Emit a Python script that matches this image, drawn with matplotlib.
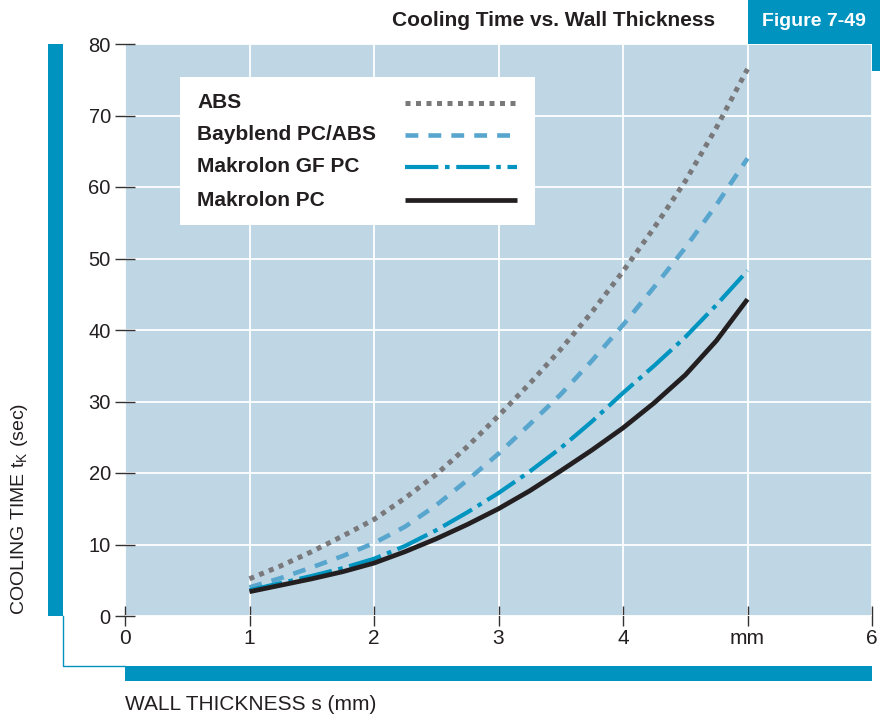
import matplotlib
matplotlib.use("Agg")
import matplotlib.pyplot as plt
from matplotlib import font_manager
from matplotlib.patches import Rectangle
from matplotlib.lines import Line2D

# ---------------- data ----------------
thickness = [1.0, 1.25, 1.5, 1.75, 2.0, 2.25, 2.5, 2.75, 3.0, 3.25, 3.5, 3.75, 4.0, 4.25, 4.5, 4.75, 5.0]
abs_time = [5.2, 7.0, 9.0, 11.2, 13.5, 16.5, 19.8, 23.7, 28.0, 32.5, 37.3, 42.5, 48.2, 54.3, 60.8, 68.3, 76.5]
bayblend_time = [4.0, 5.3, 6.8, 8.4, 10.2, 12.5, 15.5, 19.0, 22.7, 26.8, 31.0, 35.7, 40.7, 46.0, 51.5, 57.5, 64.0]
makrolon_gf_time = [3.6, 4.6, 5.6, 6.7, 8.0, 9.8, 12.0, 14.5, 17.2, 20.2, 23.5, 27.2, 31.2, 35.0, 39.0, 43.5, 48.3]
makrolon_pc_time = [3.4, 4.3, 5.2, 6.2, 7.4, 9.0, 10.8, 12.8, 15.0, 17.5, 20.3, 23.2, 26.3, 29.8, 33.7, 38.5, 44.3]

series_labels = ["ABS", "Bayblend PC/ABS", "Makrolon GF PC", "Makrolon PC"]
x_ticks = [0, 1, 2, 3, 4, 5, 6]
x_tick_labels = ["0", "1", "2", "3", "4", "mm", "6"]
y_ticks = [0, 10, 20, 30, 40, 50, 60, 70, 80]

# ---------------- fonts ----------------
avail = {f.name for f in font_manager.fontManager.ttflist}
BASE = "Liberation Sans" if "Liberation Sans" in avail else "DejaVu Sans"
NARROW = "Liberation Sans Narrow" if "Liberation Sans Narrow" in avail else BASE
plt.rcParams["font.family"] = [BASE, "DejaVu Sans"]
plt.rcParams["mathtext.fontset"] = "custom"
plt.rcParams["mathtext.rm"] = BASE

BG = "#BFD6E5"
TEAL = "#0093BF"
TXT = "#231F20"

fig = plt.figure(figsize=(8.8, 7.22), dpi=100)
W, H = 880, 722

def fx(px):
    return px / W

def fy(py):
    return 1 - py / H

ax = fig.add_axes([fx(125), fy(616), fx(872) - fx(125), fy(44) - fy(616)])
ax.set_facecolor(BG)
for s in ax.spines.values():
    s.set_visible(False)
ax.set_xlim(0, 6)
ax.set_ylim(0, 80)
ax.set_xticks(x_ticks)
ax.set_xticklabels(x_tick_labels)
ax.set_yticks(y_ticks)
ax.grid(True, color="white", linewidth=1.3)
ax.set_axisbelow(True)
ax.tick_params(axis="both", direction="inout", length=14.5, width=1.0, color="#333333",
               labelcolor=TXT)
ax.tick_params(axis="y", pad=3, labelsize=14.5)
ax.tick_params(axis="x", pad=2, labelsize=15)
for lab in ax.get_xticklabels():
    lab.set_fontfamily(NARROW)

styles = [
    dict(color="#79787B", linewidth=3.6, linestyle=(0, (1.0, 1.1)), dash_capstyle="butt"),
    dict(color="#58A6CE", linewidth=3.3, linestyle=(0, (2.8, 2.2)), dash_capstyle="butt"),
    dict(color="#0094C0", linewidth=3.0, linestyle=(0, (8.0, 1.6, 1.1, 1.6)), dash_capstyle="butt"),
    dict(color="#231F20", linewidth=3.4, linestyle="-", solid_capstyle="butt"),
]
all_series = [abs_time, bayblend_time, makrolon_gf_time, makrolon_pc_time]
for vals, st, lab in zip(all_series, styles, series_labels):
    ax.plot(thickness, vals, label=lab, zorder=3, **st)

# ---------------- legend (label left, sample right) ----------------
def ax_x(px):
    return (px - 125) / (872 - 125)

def ax_y(py):
    return (616 - py) / (616 - 44)

ax.add_patch(Rectangle((ax_x(180), ax_y(225)), ax_x(535) - ax_x(180), ax_y(77) - ax_y(225),
                       transform=ax.transAxes, facecolor="white", edgecolor="none", zorder=4))
row_y = [103, 135, 167, 200]
for lab, st, ry in zip(series_labels, styles, row_y):
    ax.text(ax_x(197), ax_y(ry), lab, transform=ax.transAxes, fontsize=15, fontweight="bold",
            color=TXT, va="center", ha="left", zorder=5)
    ax.add_line(Line2D([ax_x(405), ax_x(517)], [ax_y(ry), ax_y(ry)], transform=ax.transAxes,
                       zorder=5, **st))

# ---------------- decorations ----------------
fig.patches.append(Rectangle((fx(48), fy(616)), fx(63) - fx(48), fy(44) - fy(616),
                             transform=fig.transFigure, facecolor=TEAL, edgecolor="none"))
fig.patches.append(Rectangle((fx(125), fy(681)), fx(872) - fx(125), fy(666) - fy(681),
                             transform=fig.transFigure, facecolor=TEAL, edgecolor="none"))
fig.lines.append(Line2D([fx(63), fx(63), fx(125)], [fy(616), fy(666), fy(666)],
                        transform=fig.transFigure, color=TEAL, linewidth=1.0))
# figure number box
fig.patches.append(Rectangle((fx(748), fy(44)), 1 - fx(748), 1 - fy(44),
                             transform=fig.transFigure, facecolor=TEAL, edgecolor="none"))
fig.patches.append(Rectangle((fx(872), fy(71)), 1 - fx(872), fy(44) - fy(71),
                             transform=fig.transFigure, facecolor=TEAL, edgecolor="none"))
fig.text(fx(814), fy(21), "Figure 7-49", color="white", fontsize=14, fontweight="bold",
         family=[NARROW, "DejaVu Sans"], ha="center", va="center")
fig.text(fx(715), fy(21), "Cooling Time vs. Wall Thickness", color=TXT, fontsize=15,
         fontweight="bold", family=[NARROW, "DejaVu Sans"], ha="right", va="center")

# axis titles
fig.text(fx(20), fy(615), r"COOLING TIME t$_\mathregular{K}$ (sec)", rotation=90, fontsize=14,
         color=TXT, ha="center", va="bottom")
fig.text(fx(125), fy(705), "WALL THICKNESS s (mm)", fontsize=15, color=TXT,
         family=[NARROW, "DejaVu Sans"], ha="left", va="center")

fig.savefig("out.png", dpi=100)
